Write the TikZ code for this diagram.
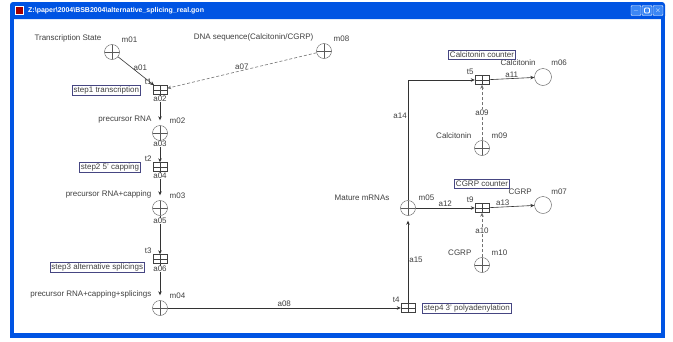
\documentclass[tikz,border=0pt]{standalone}
\usepackage{fontspec}
\setmainfont{Liberation Sans}
\usepackage{xcolor}
\usetikzlibrary{positioning, arrows.meta}
\definecolor{winBlue}{RGB}{0,84,227}
\definecolor{winSky}{RGB}{60,135,245}
\definecolor{boxRim}{RGB}{70,70,130}

\begin{document}
\begin{tikzpicture}[
    x=1pt, y=-1pt,
    node distance=10pt,
    place/.style={circle, draw=black!65, minimum size=15pt, inner sep=0pt,
        path picture={\draw[black!65] (path picture bounding box.north) -- (path picture bounding box.south)
            (path picture bounding box.west) -- (path picture bounding box.east);}},
    sink/.style={circle, draw=black!65, minimum size=17pt, inner sep=0pt},
    trans/.style={rectangle, draw=black!75, fill=white, minimum width=14pt, minimum height=9pt, inner sep=0pt,
        path picture={\draw[black!75] (path picture bounding box.north) -- (path picture bounding box.south)
            (path picture bounding box.west) -- (path picture bounding box.east);}},
    tag/.style={font=\fontsize{8}{9}\selectfont, text=black!75, inner sep=1pt},
    arctag/.style={tag, fill=white, inner sep=0.3pt},
    stepbox/.style={tag, draw=boxRim, fill=white, inner sep=1.5pt},
    arc/.style={-{Stealth[length=4pt, width=3.5pt]}, draw=black!80, line width=0.6pt},
    dotarc/.style={arc, densely dashed, draw=black!55},
    winbtn/.style={rectangle, draw=white, fill=winSky, minimum size=10pt, inner sep=0pt, rounded corners=1pt,
        text=white, font=\fontsize{7}{7}\selectfont\bfseries}
]
\useasboundingbox (0,0) rectangle (673,341);
\fill[white] (0,0) rectangle (673,341);

% Window frame
\fill[winBlue, rounded corners=3pt] (10,2) rectangle (665,19);
\fill[winBlue] (10,15) rectangle (14,338);
\fill[winBlue] (661,15) rectangle (665,338);
\fill[winBlue] (10,333) rectangle (665,338);
\node[rectangle, draw=white, fill=red!65!black, minimum size=8pt, inner sep=0pt] (icon) at (19,10.5) {};
\node[anchor=west, text=white, font=\fontsize{7}{8}\selectfont\bfseries, inner sep=0pt] (title) at (28,10.5)
    {Z:\textbackslash paper\textbackslash 2004\textbackslash BSB2004\textbackslash alternative\_splicing\_real.gon};
\node[winbtn] (btnmin) at (636,10.5) {\_};
\node[winbtn, path picture={\draw[white, line width=0.8pt] ([shift={(2.5pt,2.5pt)}]path picture bounding box.south west) rectangle ([shift={(-2.5pt,-2.5pt)}]path picture bounding box.north east);}] (btnmax) at (647,10.5) {};
\node[winbtn] (btnclose) at (658,10.5) {$\times$};

% Places and transitions
\node[place] (m01) at (112,52) {};
\node[place] (m08) at (324,51) {};
\node[trans] (t1) at (160,90) {};
\node[place] (m02) at (160,133) {};
\node[trans] (t2) at (160,167) {};
\node[place] (m03) at (160,208) {};
\node[trans] (t3) at (160,259) {};
\node[place] (m04) at (160,308) {};
\node[trans] (t4) at (408,308) {};
\node[place] (m05) at (408,208) {};
\node[trans] (t5) at (482,80) {};
\node[place] (m09) at (482,148) {};
\node[sink] (m06) at (543,77) {};
\node[trans] (t9) at (482,208) {};
\node[place] (m10) at (482,265) {};
\node[sink] (m07) at (543,205) {};

% Place names
\node[tag, above left=3pt and 4pt of m01] (m01name) {Transcription State};
\node[tag, above right=3pt and 3pt of m01] (m01id) {m01};
\node[tag, above left=3pt and 4pt of m08] (m08name) {DNA sequence(Calcitonin/CGRP)};
\node[tag, above right=3pt and 3pt of m08] (m08id) {m08};
\node[tag, above left=3pt and 2pt of m02] (m02name) {precursor RNA};
\node[tag, above right=3pt and 3pt of m02] (m02id) {m02};
\node[tag, above left=3pt and 2pt of m03] (m03name) {precursor RNA+capping};
\node[tag, above right=3pt and 3pt of m03] (m03id) {m03};
\node[tag, above left=3pt and 2pt of m04] (m04name) {precursor RNA+capping+splicings};
\node[tag, above right=3pt and 3pt of m04] (m04id) {m04};
\node[tag, above left=1pt and 12pt of m05] (m05name) {Mature mRNAs};
\node[tag, above right=1pt and 4pt of m05] (m05id) {m05};
\node[tag, above left=3pt and 4pt of m09] (m09name) {Calcitonin};
\node[tag, above right=3pt and 3pt of m09] (m09id) {m09};
\node[tag, above left=3pt and 4pt of m10] (m10name) {CGRP};
\node[tag, above right=3pt and 3pt of m10] (m10id) {m10};
\node[tag, above left=4pt and 0pt of m06] (m06name) {Calcitonin};
\node[tag, above right=4pt and 1pt of m06] (m06id) {m06};
\node[tag, above left=3pt and 4pt of m07] (m07name) {CGRP};
\node[tag, above right=3pt and 1pt of m07] (m07id) {m07};

% Transition names
\node[tag, above left=0pt and 0pt of t1] (t1id) {t1};
\node[tag, above left=0pt and 0pt of t2] (t2id) {t2};
\node[tag, above left=0pt and 0pt of t3] (t3id) {t3};
\node[tag, above left=0pt and 0pt of t4] (t4id) {t4};
\node[tag, above left=0pt and 0pt of t5] (t5id) {t5};
\node[tag, above left=0pt and 0pt of t9] (t9id) {t9};

% Step boxes
\node[stepbox, left=12pt of t1] (step1) {step1 transcription};
\node[stepbox, left=12pt of t2] (step2) {step2 5' capping};
\node[stepbox, left=8pt of t3, yshift=-8pt] (step3) {step3 alternative splicings};
\node[stepbox, right=7pt of t4] (step4) {step4 3' polyadenylation};
\node[stepbox, above=16pt of t5] (calc) {Calcitonin counter};
\node[stepbox, above=15pt of t9] (cgrp) {CGRP counter};

% Arcs
\draw[arc] (m01) -- node[tag, pos=0.4, right] {a01} (t1);
\draw[dotarc] (m08) -- node[tag, above] {a07} (t1);
\draw[arc, shorten >=5pt] (t1) -- node[arctag, pos=0, below=1pt] {a02} (m02);
\draw[arc] (m02) -- node[arctag, pos=0, below=0pt] {a03} (t2);
\draw[arc, shorten >=5pt] (t2) -- node[arctag, pos=0, below=1pt] {a04} (m03);
\draw[arc] (m03) -- node[arctag, pos=0, below=2pt] {a05} (t3);
\draw[arc, shorten >=5pt] (t3) -- node[arctag, pos=0, below=2pt] {a06} (m04);
\draw[arc] (m04) -- node[tag, above] {a08} (t4);
\draw[arc, shorten >=5pt] (t4) -- node[tag, right] {a15} (m05);
\draw[arc] (m05) |- node[tag, pos=0.35, left] {a14} (t5);
\draw[arc] (m05) -- node[tag, above] {a12} (t9);
\draw[arc] (t5) -- node[tag, above] {a11} (m06);
\draw[arc] (t9) -- node[tag, pos=0.3, above] {a13} (m07);
\draw[dotarc] (m09) -- node[arctag] {a09} (t5);
\draw[dotarc] (m10) -- node[arctag, pos=0.6] {a10} (t9);
\end{tikzpicture}
\end{document}
